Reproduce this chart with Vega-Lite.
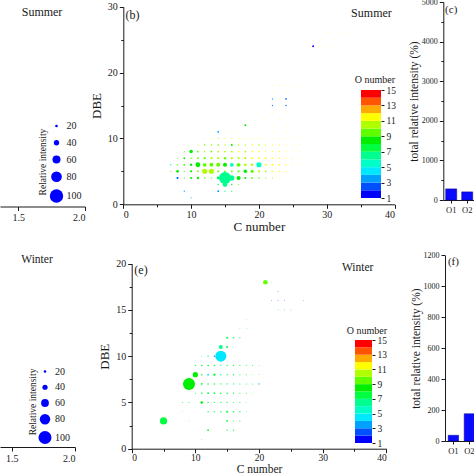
{
"$schema": "https://vega.github.io/schema/vega-lite/v6.json",
"width": 474, "height": 474,
"autosize": {"type": "none"},
"padding": 0,
"background": "white",
"config": {
  "view": {"stroke": null},
  "font": "Liberation Serif",
  "axis": {"grid": false, "domainColor": "#1a1a1a", "tickColor": "#1a1a1a", "labelColor": "#1a1a1a", "titleColor": "#1a1a1a", "labelFont": "Liberation Serif", "titleFont": "Liberation Serif", "titleFontWeight": "normal", "labelFontSize": 10, "titleFontSize": 13, "tickSize": 4, "labelPadding": 2, "domainWidth": 1, "tickWidth": 1},
  "legend": {"labelFont": "Liberation Serif", "titleFont": "Liberation Serif", "titleFontWeight": "normal", "labelColor": "#1a1a1a", "titleColor": "#1a1a1a"},
  "text": {"font": "Liberation Serif", "color": "#1a1a1a"}
},
"datasets": {
  "sb": [
    {"C":10,"DBE":1,"ri":8,"O":3},
    {"C":9,"DBE":2,"ri":10,"O":3},{"C":14,"DBE":2,"ri":14,"O":3},{"C":15,"DBE":2,"ri":10,"O":6},{"C":16,"DBE":2,"ri":8,"O":7},
    {"C":14,"DBE":3,"ri":10,"O":7},{"C":15,"DBE":3,"ri":35,"O":6},{"C":16,"DBE":3,"ri":10,"O":8},{"C":17,"DBE":3,"ri":8,"O":9},
    {"C":8,"DBE":4,"ri":16,"O":2},{"C":9,"DBE":4,"ri":8,"O":8},{"C":10,"DBE":4,"ri":16,"O":8},{"C":11,"DBE":4,"ri":18,"O":8},{"C":12,"DBE":4,"ri":12,"O":9},{"C":13,"DBE":4,"ri":10,"O":9},{"C":14,"DBE":4,"ri":20,"O":7},{"C":15,"DBE":4,"ri":90,"O":6},{"C":16,"DBE":4,"ri":40,"O":6},{"C":17,"DBE":4,"ri":30,"O":8},{"C":18,"DBE":4,"ri":16,"O":8},{"C":19,"DBE":4,"ri":14,"O":9},{"C":20,"DBE":4,"ri":12,"O":9},{"C":21,"DBE":4,"ri":10,"O":10},{"C":22,"DBE":4,"ri":8,"O":10},{"C":23,"DBE":4,"ri":6,"O":11},
    {"C":7,"DBE":5,"ri":8,"O":9},{"C":8,"DBE":5,"ri":20,"O":8},{"C":9,"DBE":5,"ri":10,"O":9},{"C":10,"DBE":5,"ri":16,"O":8},{"C":11,"DBE":5,"ri":14,"O":9},{"C":12,"DBE":5,"ri":38,"O":10},{"C":13,"DBE":5,"ri":38,"O":10},{"C":14,"DBE":5,"ri":14,"O":9},{"C":15,"DBE":5,"ri":14,"O":9},{"C":16,"DBE":5,"ri":14,"O":9},{"C":17,"DBE":5,"ri":16,"O":9},{"C":18,"DBE":5,"ri":26,"O":8},{"C":19,"DBE":5,"ri":24,"O":9},{"C":20,"DBE":5,"ri":16,"O":10},{"C":21,"DBE":5,"ri":14,"O":10},{"C":22,"DBE":5,"ri":12,"O":11},{"C":23,"DBE":5,"ri":10,"O":11},{"C":24,"DBE":5,"ri":8,"O":11},{"C":25,"DBE":5,"ri":6,"O":11},
    {"C":7,"DBE":6,"ri":10,"O":5},{"C":8,"DBE":6,"ri":12,"O":9},{"C":9,"DBE":6,"ri":14,"O":9},{"C":10,"DBE":6,"ri":18,"O":8},{"C":11,"DBE":6,"ri":36,"O":8},{"C":12,"DBE":6,"ri":28,"O":9},{"C":13,"DBE":6,"ri":30,"O":9},{"C":14,"DBE":6,"ri":30,"O":9},{"C":15,"DBE":6,"ri":30,"O":8},{"C":16,"DBE":6,"ri":28,"O":5},{"C":17,"DBE":6,"ri":28,"O":9},{"C":18,"DBE":6,"ri":20,"O":10},{"C":19,"DBE":6,"ri":18,"O":10},{"C":20,"DBE":6,"ri":38,"O":5},{"C":21,"DBE":6,"ri":16,"O":11},{"C":22,"DBE":6,"ri":14,"O":11},{"C":23,"DBE":6,"ri":12,"O":11},{"C":24,"DBE":6,"ri":10,"O":11},{"C":25,"DBE":6,"ri":8,"O":11},{"C":26,"DBE":6,"ri":6,"O":11},
    {"C":8,"DBE":7,"ri":8,"O":9},{"C":9,"DBE":7,"ri":14,"O":8},{"C":10,"DBE":7,"ri":12,"O":9},{"C":11,"DBE":7,"ri":14,"O":9},{"C":12,"DBE":7,"ri":16,"O":9},{"C":13,"DBE":7,"ri":16,"O":10},{"C":14,"DBE":7,"ri":16,"O":10},{"C":15,"DBE":7,"ri":18,"O":9},{"C":16,"DBE":7,"ri":16,"O":10},{"C":17,"DBE":7,"ri":16,"O":10},{"C":18,"DBE":7,"ri":16,"O":10},{"C":19,"DBE":7,"ri":14,"O":11},{"C":20,"DBE":7,"ri":14,"O":11},{"C":21,"DBE":7,"ri":14,"O":11},{"C":22,"DBE":7,"ri":12,"O":11},{"C":23,"DBE":7,"ri":10,"O":11},{"C":24,"DBE":7,"ri":8,"O":11},{"C":25,"DBE":7,"ri":8,"O":11},{"C":26,"DBE":7,"ri":6,"O":11},
    {"C":9,"DBE":8,"ri":8,"O":9},{"C":10,"DBE":8,"ri":26,"O":8},{"C":11,"DBE":8,"ri":14,"O":9},{"C":12,"DBE":8,"ri":12,"O":10},{"C":13,"DBE":8,"ri":14,"O":9},{"C":14,"DBE":8,"ri":14,"O":10},{"C":15,"DBE":8,"ri":14,"O":10},{"C":16,"DBE":8,"ri":14,"O":10},{"C":17,"DBE":8,"ri":12,"O":11},{"C":18,"DBE":8,"ri":14,"O":10},{"C":19,"DBE":8,"ri":12,"O":11},{"C":20,"DBE":8,"ri":12,"O":11},{"C":21,"DBE":8,"ri":10,"O":11},{"C":22,"DBE":8,"ri":10,"O":11},{"C":23,"DBE":8,"ri":8,"O":11},{"C":24,"DBE":8,"ri":8,"O":11},{"C":25,"DBE":8,"ri":6,"O":11},{"C":26,"DBE":8,"ri":6,"O":11},
    {"C":11,"DBE":9,"ri":8,"O":10},{"C":12,"DBE":9,"ri":12,"O":9},{"C":13,"DBE":9,"ri":12,"O":10},{"C":14,"DBE":9,"ri":12,"O":9},{"C":15,"DBE":9,"ri":10,"O":10},{"C":16,"DBE":9,"ri":14,"O":8},{"C":17,"DBE":9,"ri":12,"O":10},{"C":18,"DBE":9,"ri":10,"O":10},{"C":19,"DBE":9,"ri":10,"O":11},{"C":20,"DBE":9,"ri":12,"O":10},{"C":21,"DBE":9,"ri":10,"O":11},{"C":22,"DBE":9,"ri":8,"O":11},{"C":23,"DBE":9,"ri":8,"O":11},{"C":24,"DBE":9,"ri":6,"O":11},{"C":25,"DBE":9,"ri":6,"O":11},{"C":26,"DBE":9,"ri":6,"O":11},
    {"C":12,"DBE":10,"ri":6,"O":10},{"C":13,"DBE":10,"ri":8,"O":11},{"C":14,"DBE":10,"ri":8,"O":10},{"C":15,"DBE":10,"ri":8,"O":11},{"C":16,"DBE":10,"ri":8,"O":11},{"C":17,"DBE":10,"ri":8,"O":11},{"C":18,"DBE":10,"ri":8,"O":11},{"C":19,"DBE":10,"ri":8,"O":11},{"C":20,"DBE":10,"ri":8,"O":11},{"C":21,"DBE":10,"ri":6,"O":11},{"C":22,"DBE":10,"ri":6,"O":11},{"C":23,"DBE":10,"ri":6,"O":11},{"C":24,"DBE":10,"ri":6,"O":11},{"C":25,"DBE":10,"ri":6,"O":11},{"C":26,"DBE":10,"ri":6,"O":11},{"C":27,"DBE":10,"ri":6,"O":11},
    {"C":13,"DBE":11,"ri":6,"O":11},{"C":14,"DBE":11,"ri":14,"O":3},{"C":15,"DBE":11,"ri":6,"O":11},{"C":16,"DBE":11,"ri":6,"O":11},{"C":17,"DBE":11,"ri":6,"O":11},{"C":18,"DBE":11,"ri":6,"O":11},{"C":20,"DBE":11,"ri":6,"O":11},{"C":22,"DBE":11,"ri":6,"O":11},{"C":24,"DBE":11,"ri":6,"O":11},{"C":26,"DBE":11,"ri":6,"O":11},
    {"C":16,"DBE":12,"ri":6,"O":11},{"C":18,"DBE":12,"ri":14,"O":8},{"C":20,"DBE":12,"ri":6,"O":11},{"C":22,"DBE":12,"ri":6,"O":11},{"C":24,"DBE":12,"ri":6,"O":11},{"C":26,"DBE":12,"ri":6,"O":11},
    {"C":19,"DBE":13,"ri":6,"O":11},{"C":21,"DBE":13,"ri":6,"O":11},{"C":23,"DBE":13,"ri":6,"O":11},{"C":25,"DBE":13,"ri":6,"O":11},
    {"C":20,"DBE":14,"ri":6,"O":11},{"C":22,"DBE":14,"ri":6,"O":11},{"C":24,"DBE":14,"ri":6,"O":11},
    {"C":22,"DBE":15,"ri":10,"O":3},{"C":23,"DBE":15,"ri":6,"O":11},{"C":24,"DBE":15,"ri":10,"O":2},{"C":25,"DBE":15,"ri":6,"O":11},
    {"C":22,"DBE":16,"ri":10,"O":3},{"C":23,"DBE":16,"ri":6,"O":11},{"C":24,"DBE":16,"ri":12,"O":2},
    {"C":22,"DBE":17,"ri":6,"O":11},{"C":24,"DBE":17,"ri":6,"O":11},
    {"C":22,"DBE":18,"ri":6,"O":11},{"C":23,"DBE":18,"ri":6,"O":11},{"C":24,"DBE":18,"ri":6,"O":11},{"C":25,"DBE":18,"ri":6,"O":11},{"C":26,"DBE":18,"ri":6,"O":11},
    {"C":25,"DBE":19,"ri":6,"O":11},
    {"C":29,"DBE":23,"ri":6,"O":11},
    {"C":28,"DBE":24,"ri":14,"O":1},{"C":29,"DBE":24,"ri":6,"O":11},{"C":30,"DBE":24,"ri":6,"O":11},{"C":31,"DBE":24,"ri":6,"O":11},
    {"C":29,"DBE":25,"ri":6,"O":11},{"C":31,"DBE":25,"ri":6,"O":11},
    {"C":30,"DBE":26,"ri":6,"O":11},{"C":32,"DBE":26,"ri":6,"O":11},{"C":33,"DBE":26,"ri":6,"O":11}
  ],
  "we": [
    {"C":5,"DBE":3,"ri":55,"O":7},
    {"C":9,"DBE":7,"ri":92,"O":8},
    {"C":10,"DBE":8,"ri":40,"O":8},
    {"C":14,"DBE":10,"ri":85,"O":4},
    {"C":14,"DBE":11,"ri":30,"O":6},
    {"C":15,"DBE":11,"ri":16,"O":7},{"C":15,"DBE":12,"ri":16,"O":7},{"C":16,"DBE":12,"ri":12,"O":7},{"C":17,"DBE":12,"ri":8,"O":8},
    {"C":12,"DBE":10,"ri":10,"O":7},{"C":13,"DBE":10,"ri":10,"O":2},{"C":11,"DBE":10,"ri":6,"O":7},
    {"C":21,"DBE":18,"ri":35,"O":9},{"C":22,"DBE":18,"ri":6,"O":9},
    {"C":23,"DBE":17,"ri":6,"O":2},{"C":22,"DBE":16,"ri":6,"O":2},{"C":23,"DBE":16,"ri":6,"O":2},{"C":24,"DBE":16,"ri":6,"O":2},{"C":27,"DBE":16,"ri":6,"O":3},
    {"C":23,"DBE":15,"ri":6,"O":3},{"C":24,"DBE":15,"ri":6,"O":3},{"C":25,"DBE":15,"ri":6,"O":3},
    {"C":18,"DBE":14,"ri":6,"O":6},{"C":17,"DBE":13,"ri":6,"O":6},{"C":18,"DBE":13,"ri":6,"O":6},
    {"C":10,"DBE":9,"ri":10,"O":7},{"C":11,"DBE":9,"ri":12,"O":7},{"C":12,"DBE":9,"ri":12,"O":7},{"C":13,"DBE":9,"ri":12,"O":7},{"C":14,"DBE":9,"ri":10,"O":6},{"C":15,"DBE":9,"ri":10,"O":7},{"C":16,"DBE":9,"ri":10,"O":7},{"C":17,"DBE":9,"ri":8,"O":7},{"C":18,"DBE":9,"ri":8,"O":7},{"C":19,"DBE":9,"ri":8,"O":7},{"C":20,"DBE":9,"ri":6,"O":7},
    {"C":11,"DBE":8,"ri":12,"O":7},{"C":12,"DBE":8,"ri":14,"O":4},{"C":13,"DBE":8,"ri":18,"O":7},{"C":14,"DBE":8,"ri":12,"O":6},{"C":15,"DBE":8,"ri":10,"O":7},{"C":16,"DBE":8,"ri":10,"O":7},{"C":17,"DBE":8,"ri":8,"O":7},{"C":18,"DBE":8,"ri":8,"O":7},{"C":19,"DBE":8,"ri":6,"O":7},{"C":20,"DBE":8,"ri":6,"O":7},
    {"C":11,"DBE":7,"ri":14,"O":7},{"C":12,"DBE":7,"ri":12,"O":7},{"C":13,"DBE":7,"ri":12,"O":7},{"C":14,"DBE":7,"ri":10,"O":7},{"C":15,"DBE":7,"ri":10,"O":7},{"C":16,"DBE":7,"ri":10,"O":6},{"C":17,"DBE":7,"ri":8,"O":7},{"C":18,"DBE":7,"ri":8,"O":7},{"C":19,"DBE":7,"ri":8,"O":7},{"C":20,"DBE":7,"ri":10,"O":3},
    {"C":10,"DBE":6,"ri":8,"O":7},{"C":11,"DBE":6,"ri":12,"O":7},{"C":12,"DBE":6,"ri":14,"O":7},{"C":13,"DBE":6,"ri":14,"O":7},{"C":14,"DBE":6,"ri":12,"O":7},{"C":15,"DBE":6,"ri":12,"O":7},{"C":16,"DBE":6,"ri":10,"O":7},{"C":17,"DBE":6,"ri":8,"O":7},{"C":18,"DBE":6,"ri":8,"O":7},{"C":19,"DBE":6,"ri":6,"O":7},
    {"C":8,"DBE":5,"ri":8,"O":7},{"C":9,"DBE":5,"ri":8,"O":7},{"C":11,"DBE":5,"ri":20,"O":8},{"C":12,"DBE":5,"ri":10,"O":7},{"C":13,"DBE":5,"ri":10,"O":7},{"C":14,"DBE":5,"ri":10,"O":7},{"C":15,"DBE":5,"ri":10,"O":7},{"C":16,"DBE":5,"ri":8,"O":7},{"C":17,"DBE":5,"ri":8,"O":7},{"C":18,"DBE":5,"ri":6,"O":7},
    {"C":8,"DBE":4,"ri":6,"O":7},{"C":12,"DBE":4,"ri":10,"O":7},{"C":13,"DBE":4,"ri":10,"O":7},{"C":14,"DBE":4,"ri":10,"O":7},{"C":15,"DBE":4,"ri":16,"O":7},{"C":16,"DBE":4,"ri":12,"O":7},{"C":17,"DBE":4,"ri":10,"O":7},{"C":18,"DBE":4,"ri":6,"O":7},
    {"C":9,"DBE":3,"ri":6,"O":7},{"C":15,"DBE":3,"ri":14,"O":7},{"C":16,"DBE":3,"ri":8,"O":7},{"C":17,"DBE":3,"ri":8,"O":7},
    {"C":12,"DBE":2,"ri":14,"O":7},{"C":15,"DBE":2,"ri":10,"O":7},{"C":16,"DBE":2,"ri":10,"O":7},
    {"C":11,"DBE":1,"ri":6,"O":7}
  ],
  "bc": [{"g":"O1","v":280},{"g":"O2","v":205}],
  "bf": [{"g":"O1","v":37},{"g":"O2","v":176}],
  "cbar": [
    {"lo":1,"hi":2,"m":1.5},{"lo":2,"hi":3,"m":2.5},{"lo":3,"hi":4,"m":3.5},{"lo":4,"hi":5,"m":4.5},{"lo":5,"hi":6,"m":5.5},{"lo":6,"hi":7,"m":6.5},{"lo":7,"hi":8,"m":7.5},
    {"lo":8,"hi":9,"m":8.5},{"lo":9,"hi":10,"m":9.5},{"lo":10,"hi":11,"m":10.5},{"lo":11,"hi":12,"m":11.5},{"lo":12,"hi":13,"m":12.5},{"lo":13,"hi":14,"m":13.5},{"lo":14,"hi":15,"m":14.5}
  ]
},
"layer": [
  {"layer": [
    {"data": {"values": [{}]}, "mark": {"type": "text", "fontSize": 12},
     "encoding": {
       "x": {"datum": 1.678, "type": "quantitative", "scale": {"domain": [1.363, 2.0], "range": [0, 85], "nice": false, "zero": false}, "axis": {"orient": "bottom", "offset": -267.5, "values": [1.5, 2.0], "format": ".1f", "title": null}},
       "y": {"datum": 29.3, "type": "quantitative", "scale": {"domain": [0, 30], "range": [206.5, 7], "nice": false}, "axis": null},
       "text": {"value": "Summer"}}},
    {"data": {"values": [{}]}, "mark": {"type": "text", "fontSize": 9.5, "angle": 270},
     "encoding": {"x": {"datum": 1.685, "type": "quantitative"}, "y": {"datum": 6.69, "type": "quantitative"}, "text": {"value": "Relative intensity"}}}
  ]},
  {"layer": [
    {"data": {"name": "sb"}, "mark": {"type": "point", "filled": true, "opacity": 1, "shape": "circle", "strokeWidth": 0},
     "encoding": {
       "x": {"field": "C", "type": "quantitative", "scale": {"domain": [0, 40], "range": [123.3, 394.5], "nice": false, "zero": false},
             "axis": {"orient": "bottom", "offset": -269.7, "values": [0,5,10,15,20,25,30,35,40], "labelExpr": "datum.value % 10 === 0 ? datum.label : ''", "title": "C number", "titleFontSize": 13, "titlePadding": 1.5, "labelPadding": 1, "tickSize": {"condition": {"test": "datum.value % 10 === 0", "value": 4}, "value": 2.5}}},
       "y": {"field": "DBE", "type": "quantitative", "scale": {"domain": [0, 30], "range": [204.3, 6.7], "nice": false},
             "axis": {"orient": "left", "offset": -123.3, "values": [0,5,10,15,20,25,30], "labelExpr": "datum.value % 10 === 0 ? datum.label : ''", "title": "DBE", "titleFontSize": 13, "titlePadding": 4, "tickSize": {"condition": {"test": "datum.value % 10 === 0", "value": 4}, "value": 2.5}}},
       "size": {"field": "ri", "type": "quantitative", "scale": {"type": "pow", "exponent": 2, "domain": [0, 100], "range": [0, 180]},
                "legend": {"orient": "none", "legendX": 49.5, "legendY": 121, "values": [20,40,60,80,100], "title": null, "labelFontSize": 10, "labelOffset": 3, "rowPadding": 6.75, "symbolType": "circle", "symbolFillColor": "#0000ff", "symbolStrokeColor": "#0000ff", "symbolStrokeWidth": 0, "padding": 0}},
       "color": {"field": "O", "type": "quantitative", "scale": {"type": "quantize", "domain": [1, 15], "nice": false, "range": ["#0000ff","#0050ff","#00a0ff","#00e8ff","#00ffc8","#00ff90","#00ff40","#00ee00","#60ff00","#b0ff00","#ffff00","#ffaa00","#ff5500","#ff0000"]}, "legend": null},
       "order": {"field": "ri", "sort": "ascending"}}},
    {"data": {"values": [{}]}, "mark": {"type": "text", "fontSize": 12}, "encoding": {"x": {"datum": 1.36, "type": "quantitative"}, "y": {"datum": 28.8, "type": "quantitative"}, "text": {"value": "(b)"}}},
    {"data": {"values": [{}]}, "mark": {"type": "text", "fontSize": 12}, "encoding": {"x": {"datum": 36.6, "type": "quantitative"}, "y": {"datum": 29.1, "type": "quantitative"}, "text": {"value": "Summer"}}}
  ]},
  {"layer": [
    {"data": {"name": "cbar"}, "mark": {"type": "rect"},
     "encoding": {
       "x": {"datum": 0, "type": "quantitative", "scale": {"domain": [0, 1], "range": [361, 381], "nice": false, "zero": false}, "axis": null},
       "x2": {"datum": 1},
       "y": {"field": "lo", "type": "quantitative", "scale": {"domain": [1, 15], "range": [198, 90], "nice": false, "zero": false},
             "axis": {"orient": "right", "offset": -93, "values": [1,3,5,7,9,11,13,15], "domain": false, "title": null, "labelFontSize": 9.5, "tickSize": 3, "labelPadding": 2}},
       "y2": {"field": "hi"},
       "color": {"field": "m", "type": "quantitative", "scale": {"type": "quantize", "domain": [1, 15], "nice": false, "range": ["#0000ff","#0050ff","#00a0ff","#00e8ff","#00ffc8","#00ff90","#00ff40","#00ee00","#60ff00","#b0ff00","#ffff00","#ffaa00","#ff5500","#ff0000"]}, "legend": null}}},
    {"data": {"values": [{}]}, "mark": {"type": "text", "fontSize": 10}, "encoding": {"x": {"datum": 0.7, "type": "quantitative"}, "y": {"datum": 16.3, "type": "quantitative"}, "text": {"value": "O number"}}}
  ]},
  {"layer": [
    {"data": {"name": "bc"}, "mark": {"type": "bar", "color": "#0a0aff", "stroke": "#00008b", "strokeWidth": 0.5},
     "encoding": {
       "x": {"field": "g", "type": "nominal", "sort": null, "scale": {"domain": ["O1", "O2"], "range": [443.3, 475.1], "paddingInner": 0.3125, "paddingOuter": 0.15},
             "axis": {"orient": "bottom", "offset": -274, "title": null, "labelAngle": 0, "labelFontSize": 8.5, "labelPadding": 2, "tickSize": 3}},
       "y": {"field": "v", "type": "quantitative", "scale": {"domain": [0, 5000], "range": [200, 2], "nice": false},
             "axis": {"orient": "left", "offset": -443.3, "values": [0,500,1000,1500,2000,2500,3000,3500,4000,4500,5000], "format": "d", "labelExpr": "datum.value % 1000 === 0 ? datum.label : ''", "title": "total relative intensity (%)", "labelFontSize": 8, "titleFontSize": 11.5, "titlePadding": 2, "tickSize": {"condition": {"test": "datum.value % 1000 === 0", "value": 4}, "value": 2.5}}}}},
    {"data": {"values": [{}]}, "mark": {"type": "text", "fontSize": 11}, "encoding": {"x": {"datum": "O1", "type": "nominal"}, "y": {"datum": 4800, "type": "quantitative"}, "text": {"value": "(c)"}}}
  ]},
  {"layer": [
    {"data": {"values": [{}]}, "mark": {"type": "text", "fontSize": 11.5},
     "encoding": {
       "x": {"datum": 1.70, "type": "quantitative", "scale": {"domain": [1.408, 2.0], "range": [0, 75], "nice": false, "zero": false}, "axis": {"orient": "bottom", "offset": -27, "values": [1.5, 2.0], "format": ".1f", "title": null}},
       "y": {"datum": 20.4, "type": "quantitative", "scale": {"domain": [0, 20], "range": [447, 264], "nice": false}, "axis": null},
       "text": {"value": "Winter"}}},
    {"data": {"values": [{}]}, "mark": {"type": "text", "fontSize": 9.5, "angle": 270},
     "encoding": {"x": {"datum": 1.668, "type": "quantitative"}, "y": {"datum": 4.92, "type": "quantitative"}, "text": {"value": "Relative intensity"}}}
  ]},
  {"layer": [
    {"data": {"name": "we"}, "mark": {"type": "point", "filled": true, "opacity": 1, "shape": "circle", "strokeWidth": 0},
     "encoding": {
       "x": {"field": "C", "type": "quantitative", "scale": {"domain": [0, 40], "range": [131.7, 386.3], "nice": false, "zero": false},
             "axis": {"orient": "bottom", "offset": -25.3, "values": [0,5,10,15,20,25,30,35,40], "labelExpr": "datum.value % 10 === 0 ? datum.label : ''", "title": "C number", "labelFontSize": 9.5, "titleFontSize": 11.5, "titlePadding": 1, "labelPadding": 0, "tickSize": {"condition": {"test": "datum.value % 10 === 0", "value": 4}, "value": 2.5}}},
       "y": {"field": "DBE", "type": "quantitative", "scale": {"domain": [0, 20], "range": [448.7, 263.7], "nice": false},
             "axis": {"orient": "left", "offset": -131.7, "values": [0,2.5,5,7.5,10,12.5,15,17.5,20], "labelExpr": "datum.value % 5 === 0 ? datum.label : ''", "title": "DBE", "titleFontSize": 13, "titlePadding": 4, "tickSize": {"condition": {"test": "datum.value % 5 === 0", "value": 4}, "value": 2.5}}},
       "size": {"field": "ri", "type": "quantitative", "scale": {"type": "pow", "exponent": 2, "domain": [0, 100], "range": [0, 170]},
                "legend": {"orient": "none", "legendX": 38, "legendY": 366.5, "values": [20,40,60,80,100], "title": null, "labelFontSize": 10, "labelOffset": 3, "rowPadding": 5.75, "symbolType": "circle", "symbolFillColor": "#0000ff", "symbolStrokeColor": "#0000ff", "symbolStrokeWidth": 0, "padding": 0}},
       "color": {"field": "O", "type": "quantitative", "scale": {"type": "quantize", "domain": [1, 15], "nice": false, "range": ["#0000ff","#0050ff","#00a0ff","#00e8ff","#00ffc8","#00ff90","#00ff40","#00ee00","#60ff00","#b0ff00","#ffff00","#ffaa00","#ff5500","#ff0000"]}, "legend": null},
       "order": {"field": "ri", "sort": "ascending"}}},
    {"data": {"values": [{}]}, "mark": {"type": "text", "fontSize": 12}, "encoding": {"x": {"datum": 1.46, "type": "quantitative"}, "y": {"datum": 19.3, "type": "quantitative"}, "text": {"value": "(e)"}}},
    {"data": {"values": [{}]}, "mark": {"type": "text", "fontSize": 11.5}, "encoding": {"x": {"datum": 35.5, "type": "quantitative"}, "y": {"datum": 19.5, "type": "quantitative"}, "text": {"value": "Winter"}}}
  ]},
  {"layer": [
    {"data": {"name": "cbar"}, "mark": {"type": "rect"},
     "encoding": {
       "x": {"datum": 0, "type": "quantitative", "scale": {"domain": [0, 1], "range": [355, 372], "nice": false, "zero": false}, "axis": null},
       "x2": {"datum": 1},
       "y": {"field": "lo", "type": "quantitative", "scale": {"domain": [1, 15], "range": [443, 340], "nice": false, "zero": false},
             "axis": {"orient": "right", "offset": -102, "values": [1,3,5,7,9,11,13,15], "domain": false, "title": null, "labelFontSize": 9.5, "tickSize": 3, "labelPadding": 2}},
       "y2": {"field": "hi"},
       "color": {"field": "m", "type": "quantitative", "scale": {"type": "quantize", "domain": [1, 15], "nice": false, "range": ["#0000ff","#0050ff","#00a0ff","#00e8ff","#00ffc8","#00ff90","#00ff40","#00ee00","#60ff00","#b0ff00","#ffff00","#ffaa00","#ff5500","#ff0000"]}, "legend": null}}},
    {"data": {"values": [{}]}, "mark": {"type": "text", "fontSize": 10}, "encoding": {"x": {"datum": 0.7, "type": "quantitative"}, "y": {"datum": 16.2, "type": "quantitative"}, "text": {"value": "O number"}}}
  ]},
  {"layer": [
    {"data": {"name": "bf"}, "mark": {"type": "bar", "color": "#0a0aff", "stroke": "#00008b", "strokeWidth": 0.5},
     "encoding": {
       "x": {"field": "g", "type": "nominal", "sort": null, "scale": {"domain": ["O1", "O2"], "range": [445, 477.8], "paddingInner": 0.35, "paddingOuter": 0.2},
             "axis": {"orient": "bottom", "offset": -33, "title": null, "labelAngle": 0, "labelFontSize": 8.5, "labelPadding": 2, "tickSize": 3}},
       "y": {"field": "v", "type": "quantitative", "scale": {"domain": [0, 1200], "range": [441, 255.3], "nice": false},
             "axis": {"orient": "left", "offset": -445, "values": [0,100,200,300,400,500,600,700,800,900,1000,1100,1200], "format": "d", "labelExpr": "datum.value % 200 === 0 ? datum.label : ''", "title": "total relative intensity (%)", "labelFontSize": 8, "titleFontSize": 11.5, "titlePadding": 2, "tickSize": {"condition": {"test": "datum.value % 200 === 0", "value": 4}, "value": 2.5}}}}},
    {"data": {"values": [{}]}, "mark": {"type": "text", "fontSize": 11}, "encoding": {"x": {"datum": "O1", "type": "nominal"}, "y": {"datum": 1155, "type": "quantitative"}, "text": {"value": "(f)"}}}
  ]}
],
"resolve": {"scale": {"x": "independent", "y": "independent", "size": "independent", "color": "independent"}}
}
